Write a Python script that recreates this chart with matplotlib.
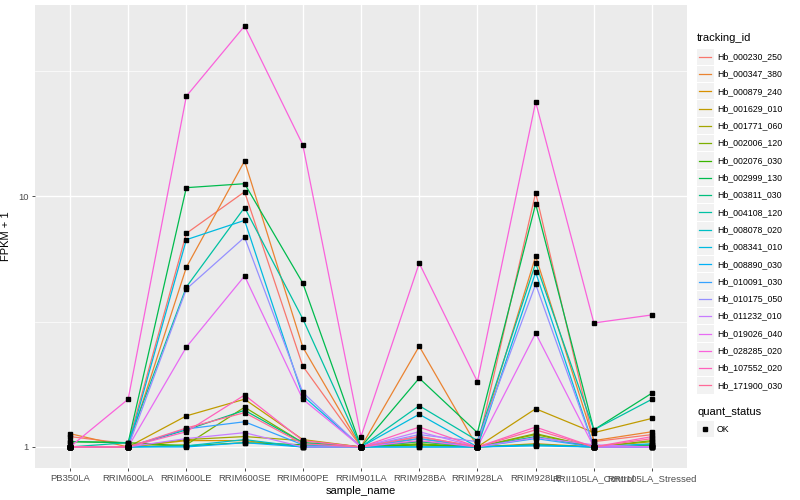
import numpy as np
import matplotlib
matplotlib.use('Agg')
import matplotlib.pyplot as plt
from matplotlib.ticker import FixedLocator, NullFormatter

plt.rcParams['font.family'] = ['Liberation Sans', 'DejaVu Sans']

samples = ['PB350LA', 'RRIM600LA', 'RRIM600LE', 'RRIM600SE', 'RRIM600PE',
           'RRIM901LA', 'RRIM928BA', 'RRIM928LA', 'RRIM928LE',
           'RRII105LA_Control', 'RRII105LA_Stressed']

tracking_ids = ['Hb_000230_250', 'Hb_000347_380', 'Hb_000879_240',
                'Hb_001629_010', 'Hb_001771_060', 'Hb_002006_120',
                'Hb_002076_030', 'Hb_002999_130', 'Hb_003811_030',
                'Hb_004108_120', 'Hb_008078_020', 'Hb_008341_010',
                'Hb_008890_030', 'Hb_010091_030', 'Hb_010175_050',
                'Hb_011232_010', 'Hb_019026_040', 'Hb_028285_020',
                'Hb_107552_020', 'Hb_171900_030']

# FPKM + 1, one row per tracking_id, one column per sample
fpkm1 = [
    [1.10, 1.03, 7.10, 10.4, 2.10, 1.00, 1.10, 1.00, 10.3, 1.05, 1.12],
    [1.13, 1.00, 5.20, 13.8, 2.50, 1.00, 2.52, 1.00, 5.76, 1.06, 1.15],
    [1.00, 1.00, 1.06, 1.06, 1.00, 1.00, 1.02, 1.00, 1.03, 1.00, 1.02],
    [1.00, 1.00, 1.33, 1.55, 1.07, 1.00, 1.08, 1.00, 1.42, 1.14, 1.30],
    [1.00, 1.00, 1.07, 1.10, 1.06, 1.00, 1.05, 1.00, 1.12, 1.00, 1.05],
    [1.00, 1.00, 1.02, 1.44, 1.04, 1.00, 1.03, 1.00, 1.13, 1.00, 1.06],
    [1.05, 1.04, 1.01, 1.04, 1.02, 1.00, 1.02, 1.00, 1.02, 1.00, 1.01],
    [1.05, 1.04, 10.8, 11.2, 4.50, 1.00, 1.88, 1.14, 9.30, 1.17, 1.64],
    [1.00, 1.00, 1.17, 1.40, 1.04, 1.00, 1.05, 1.00, 1.10, 1.00, 1.02],
    [1.00, 1.04, 4.34, 9.00, 3.24, 1.00, 1.46, 1.06, 5.40, 1.17, 1.55],
    [1.00, 1.00, 1.01, 1.07, 1.00, 1.00, 1.00, 1.00, 1.02, 1.00, 1.00],
    [1.00, 1.00, 6.70, 8.00, 1.60, 1.00, 1.35, 1.00, 4.97, 1.00, 1.03],
    [1.00, 1.00, 1.00, 1.04, 1.00, 1.00, 1.00, 1.00, 1.01, 1.00, 1.00],
    [1.00, 1.00, 1.18, 1.26, 1.02, 1.00, 1.08, 1.00, 1.08, 1.00, 1.00],
    [1.00, 1.00, 4.26, 6.85, 1.65, 1.00, 1.12, 1.05, 4.45, 1.00, 1.00],
    [1.00, 1.00, 1.08, 1.14, 1.00, 1.00, 1.15, 1.00, 1.09, 1.02, 1.00],
    [1.00, 1.00, 2.50, 4.80, 1.55, 1.00, 1.06, 1.00, 2.84, 1.00, 1.00],
    [1.00, 1.55, 25.0, 47.6, 16.0, 1.10, 5.40, 1.82, 23.7, 3.12, 3.36],
    [1.00, 1.00, 1.15, 1.61, 1.06, 1.00, 1.20, 1.00, 1.20, 1.00, 1.10],
    [1.00, 1.00, 1.19, 1.37, 1.03, 1.00, 1.10, 1.00, 1.17, 1.00, 1.08],
]


def hcl(h, c=100.0, l=65.0):
    """polar CIELUV -> sRGB, like R's hcl()"""
    Xn, Yn, Zn = 95.047, 100.0, 108.883
    un = 4 * Xn / (Xn + 15 * Yn + 3 * Zn)
    vn = 9 * Yn / (Xn + 15 * Yn + 3 * Zn)
    u = c * np.cos(np.deg2rad(h))
    v = c * np.sin(np.deg2rad(h))
    Y = Yn * ((l + 16) / 116) ** 3
    up = u / (13 * l) + un
    vp = v / (13 * l) + vn
    X = 9 * Y * up / (4 * vp)
    Z = Y * (12 - 3 * up - 20 * vp) / (4 * vp)
    M = np.array([[3.240479, -1.537150, -0.498535],
                  [-0.969256, 1.875992, 0.041556],
                  [0.055648, -0.204043, 1.057311]])
    rgb = M @ (np.array([X, Y, Z]) / 100.0)
    rgb = np.where(rgb <= 0.0031308, 12.92 * rgb,
                   1.055 * np.abs(rgb) ** (1 / 2.4) - 0.055)
    return tuple(np.clip(rgb, 0, 1))


n = len(tracking_ids)
colors = [hcl(h) for h in np.linspace(15, 375, n + 1)[:-1]]

fig = plt.figure(figsize=(8, 5), dpi=100)
ax = fig.add_axes([35 / 800, 32 / 500, 652 / 800, 463 / 500])
ax.set_facecolor('#EBEBEB')
for s in ax.spines.values():
    s.set_visible(False)

x = np.arange(len(samples))
for i in range(n):
    ax.plot(x, fpkm1[i], color=colors[i], lw=0.9, zorder=3)
for i in range(n):
    ax.plot(x, fpkm1[i], ls='none', marker='s', ms=2.2, color='black',
            zorder=4)

ax.set_yscale('log')
lo, hi = 0.0, np.log10(np.max(fpkm1))
pad = 0.05 * (hi - lo)
ax.set_ylim(10 ** (lo - pad), 10 ** (hi + pad))
ax.set_xlim(-0.6, len(samples) - 0.4)

ax.yaxis.set_major_locator(FixedLocator([1, 10]))
ax.yaxis.set_minor_locator(FixedLocator([10 ** 0.5, 10 ** 1.5]))
ax.yaxis.set_minor_formatter(NullFormatter())
ax.set_yticklabels(['1', '10'])
ax.set_xticks(x)
ax.set_xticklabels(samples)
ax.tick_params(axis='both', which='major', length=2.5, width=0.6,
               color='#333333', labelsize=6.8, labelcolor='#4D4D4D', pad=2)
ax.tick_params(axis='y', which='minor', length=0)
ax.grid(True, which='major', color='white', lw=1.0, zorder=0)
ax.grid(True, which='minor', axis='y', color='white', lw=0.5, zorder=0)
ax.set_axisbelow(True)

ax.set_xlabel('sample_name', fontsize=8, labelpad=2)
ax.set_ylabel('FPKM + 1', fontsize=8, labelpad=5)

# legends, ggplot style
lg = fig.add_axes([0, 0, 1, 1])
lg.set_xlim(0, 800)
lg.set_ylim(500, 0)
lg.axis('off')
lg.text(697, 38, 'tracking_id', fontsize=8, va='center', ha='left')
y0, dy = 56.7, 17.3
for i, name in enumerate(tracking_ids):
    yc = y0 + i * dy
    lg.add_patch(plt.Rectangle((697, yc - dy / 2 + 0.5), 16.5, dy - 1,
                               color='#F2F2F2', lw=0))
    lg.plot([699, 711], [yc, yc], color=colors[i], lw=0.9)
    lg.text(717, yc, name, fontsize=6.3, va='center', ha='left')

lg.text(697, 412, 'quant_status', fontsize=8, va='center', ha='left')
lg.add_patch(plt.Rectangle((697, 429 - 8.2), 16.5, 16.4, color='#F2F2F2',
                           lw=0))
lg.plot([705], [429], marker='s', ms=2.2, color='black')
lg.text(717, 429, 'OK', fontsize=6.3, va='center', ha='left')

fig.savefig('out.png', dpi=100)
